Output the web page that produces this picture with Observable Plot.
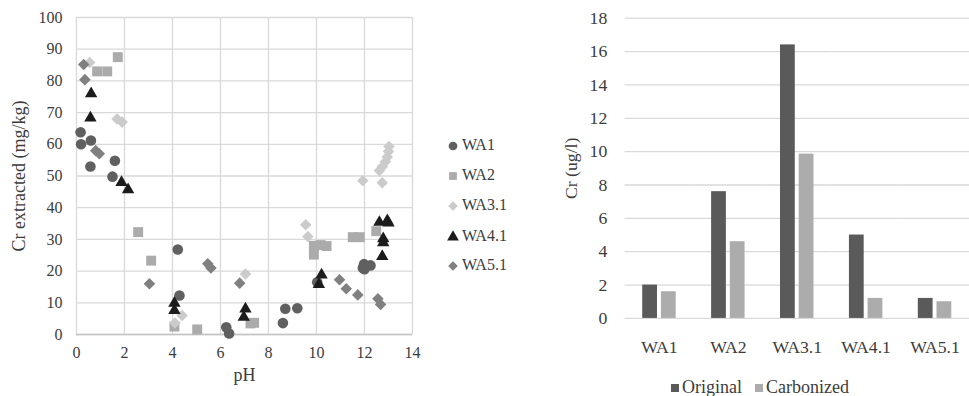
<!DOCTYPE html>
<html><head><meta charset="utf-8">
<script src="https://cdn.jsdelivr.net/npm/d3@7"></script>
<script src="https://cdn.jsdelivr.net/npm/@observablehq/plot@0.6"></script>
<style>
html,body{margin:0;padding:0;background:#fff;overflow:hidden;width:969px;height:396px;}
#wrap{position:relative;width:969px;height:396px;font-family:"Liberation Serif",serif;color:#3c3c3c;overflow:hidden;}
#wrap svg, #wrap svg text, #wrap svg g{font-family:"Liberation Serif",serif !important;}
#left{position:absolute;left:0;top:0;}
#right{position:absolute;left:530px;top:0;}
#left svg text{font-size:16px;}
#right svg text{font-size:18px;}
#wrap svg [aria-label$="axis label"] text{font-size:18px !important;}
.legl{position:absolute;left:446px;top:0;font-size:16px;font-family:"Liberation Serif",serif;}
.legl div{position:absolute;left:0;height:20px;line-height:20px;white-space:nowrap;}
.legl svg{vertical-align:middle;margin-right:2px;}
.legb{position:absolute;left:671px;top:376px;font-size:18px;white-space:nowrap;line-height:22px;font-family:"Liberation Serif",serif;}
.legb span.sw{display:inline-block;width:8px;height:8px;margin-right:3px;vertical-align:1px;}
</style>
</head><body><div id="wrap">
<div id="left"></div><div id="right"></div>
<div class="legl" id="legl"></div>
<div class="legb" id="legb"></div>
</div>
<script>
// ---- Scatter data (pH vs Cr extracted, mg/kg)
const seriesNames = ["WA1","WA2","WA3.1","WA4.1","WA5.1"];
const wa1PH = [0.17,0.19,0.6,0.58,1.6,1.5,4.22,4.29,6.24,6.36,8.6,8.7,9.2,10.03,11.93,11.98,12.0,12.25];
const wa1Cr = [63.8,60.0,61.2,53.0,54.8,49.8,26.8,12.3,2.3,0.3,3.6,8.1,8.3,16.5,21.0,22.2,20.6,21.8];
const wa2PH = [0.86,1.28,1.72,2.57,3.11,4.08,5.03,7.25,7.4,9.89,9.89,10.17,10.42,11.51,11.8,12.49];
const wa2Cr = [83,83,87.5,32.3,23.3,2.5,1.6,3.5,3.7,28,25.2,28.2,27.9,30.7,30.7,32.6];
const wa3PH = [0.55,1.69,1.9,4.1,4.4,7.04,9.55,9.64,11.93,12.74,12.62,12.75,12.87,12.95,13.0,13.02];
const wa3Cr = [85.8,68,67,3.6,6,19.1,34.6,30.9,48.5,47.9,51.7,53,54.5,56,57.7,59.3];
const wa4PH = [0.61,0.58,1.875,2.15,4.08,4.08,7.04,6.97,10.21,10.1,12.62,12.95,13.0,12.78,12.78,12.74];
const wa4Cr = [76,68.3,48,45.7,9.9,7.6,8.1,5.5,18.8,15.8,35.4,35.9,35.2,30.2,29,24.6];
const wa5PH = [0.3,0.35,0.8,0.95,3.04,5.47,5.6,6.8,10.96,11.24,11.72,12.56,12.67];
const wa5Cr = [85.2,80.4,58,57,16,22.3,21,16.2,17.3,14.4,12.5,11.3,9.5];
const xTicks = [0,2,4,6,8,10,12,14];
const yTicks = [0,10,20,30,40,50,60,70,80,90,100];

// ---- Bar data (Cr, ug/l)
const categories = ["WA1","WA2","WA3.1","WA4.1","WA5.1"];
const treatments = ["Original","Carbonized"];
const original = [2.0,7.6,16.4,5.0,1.2];
const carbonized = [1.6,4.6,9.85,1.2,1.0];
const barTicks = [0,2,4,6,8,10,12,14,16,18];

const styleSpec = [
  {name:"WA1", symbol:"circle", fill:"#606060", r:5.3, ls:d3.symbolCircle},
  {name:"WA2", symbol:"square", fill:"#ababab", r:5.6, ls:d3.symbolSquare},
  {name:"WA3.1", symbol:"diamond2", fill:"#cbcbcb", r:5.2, ls:d3.symbolDiamond2},
  {name:"WA4.1", symbol:"triangle", fill:"#1c1c1c", r:4.6, ls:d3.symbolTriangle},
  {name:"WA5.1", symbol:"diamond2", fill:"#808080", r:5.2, ls:d3.symbolDiamond2}
];
const pairs = [[wa1PH,wa1Cr],[wa2PH,wa2Cr],[wa3PH,wa3Cr],[wa4PH,wa4Cr],[wa5PH,wa5Cr]];
const seriesData = pairs.map(([p,c],i)=>p.map((v,j)=>({series:seriesNames[i], pH:v, cr:c[j]})));

const font = {fontFamily:"Liberation Serif, serif", fontSize:"16px", color:"#3c3c3c", background:"transparent", overflow:"visible"};

const left = Plot.plot({
  width: 530, height: 396,
  marginLeft: 76, marginRight: 118, marginTop: 17, marginBottom: 62,
  style: font,
  x: {domain:[0,14], ticks: xTicks, tickSize: 0, tickPadding: 12, label: "pH", labelArrow: "none", labelAnchor: "center", labelOffset: 46},
  y: {domain:[0,100], ticks: yTicks, tickSize: 0, tickPadding: 14, label: "Cr extracted (mg/kg)", labelArrow: "none", labelAnchor: "center", labelOffset: 64},
  marks: [
    Plot.ruleX(xTicks, {stroke:"#d9d9d9", strokeWidth:1.3}),
    Plot.ruleY(yTicks, {stroke:"#d9d9d9", strokeWidth:1.3}),
    Plot.ruleY([0], {stroke:"#c4c4c4", strokeWidth:1.3}),
    ...styleSpec.map((s,i)=>Plot.dot(seriesData[i], {x:"pH", y:"cr", symbol:()=>s.symbol, fill:s.fill, r:s.r, stroke:"none"}))
  ]
});
document.getElementById("left").append(left);

const barData = categories.flatMap((c,i)=>[
  {cat:c, treat:treatments[0], value:original[i]},
  {cat:c, treat:treatments[1], value:carbonized[i]}
]);

const right = Plot.plot({
  width: 446, height: 396,
  marginLeft: 96, marginRight: 0, marginTop: 18, marginBottom: 73,
  style: {...font, fontSize:"18px"},
  fx: {domain: categories, padding: 0, label: null, tickSize: 0, tickPadding: 22, axis: "bottom"},
  x: {domain: treatments, axis: null, paddingInner: 0.19, paddingOuter: 0.9},
  y: {domain:[0,18], ticks: barTicks, tickSize: 0, tickPadding: 18, label: "Cr (ug/l)", labelArrow: "none", labelAnchor: "center", labelOffset: 62},
  color: {domain: treatments, range: ["#5a5a5a","#acacac"]},
  marks: [
    Plot.ruleY(barTicks, {stroke:"#d9d9d9", strokeWidth:1.3}),
    Plot.barY(barData, {fx:"cat", x:"treat", y:"value", fill:"treat"})
  ]
});
document.getElementById("right").append(right);

// legends
const legl = document.getElementById("legl");
const legY = [145,175,205,236,265];
styleSpec.forEach((s,i)=>{
  const d = document.createElement("div");
  d.style.top = (legY[i]-10)+"px";
  const path = d3.symbol(s.ls, 60)();
  d.innerHTML = `<svg width="14" height="14" viewBox="-7 -7 14 14"><path d="${path}" fill="${s.fill}"/></svg>${s.name}`;
  legl.append(d);
});
const legb = document.getElementById("legb");
legb.innerHTML = `<span class="sw" style="background:#5a5a5a"></span>${treatments[0]}<span style="display:inline-block;width:13px"></span><span class="sw" style="background:#acacac"></span>${treatments[1]}`;
</script>
</body></html>
